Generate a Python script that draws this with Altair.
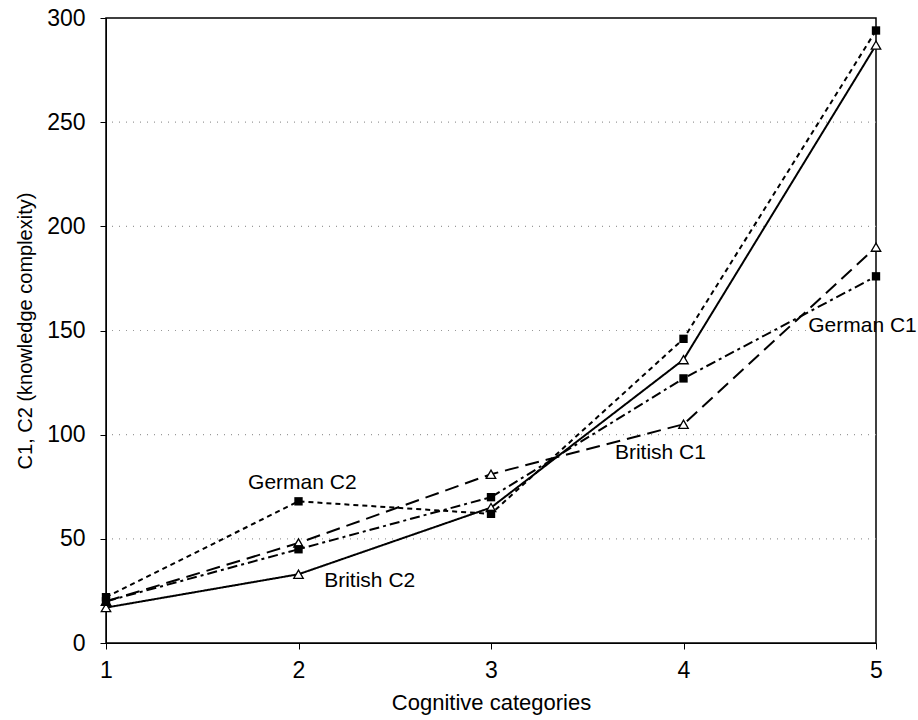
import altair as alt
import pandas as pd

categories = [1, 2, 3, 4, 5]
british_c2 = [17, 33, 65, 136, 287]
german_c2 = [22, 68, 62, 146, 294]
british_c1 = [20, 48, 81, 105, 190]
german_c1 = [20, 45, 70, 127, 176]

series_names = ["British C2", "German C2", "British C1", "German C1"]
series_values = [british_c2, german_c2, british_c1, german_c1]
series_marker = ["triangle", "square", "triangle", "square"]

label_text = ["German C2", "British C2", "British C1", "German C1"]
label_x = [2.02, 2.37, 3.88, 4.93]
label_y = [77, 30, 91, 152]

FONT = "Liberation Sans"

rows = []
for name, vals, mk in zip(series_names, series_values, series_marker):
    for c, v in zip(categories, vals):
        rows.append({"series": name, "cat": c, "value": v, "marker": mk})
df = pd.DataFrame(rows)

labels_df = pd.DataFrame({"text": label_text, "x": label_x, "y": label_y})

xscale = alt.Scale(domain=[1, 5], nice=False, zero=False)
yscale = alt.Scale(domain=[0, 300], nice=False)

dash_map = {
    "British C2": [1, 0],
    "German C2": [5, 4],
    "British C1": [14, 7],
    "German C1": [10, 4, 3, 4],
}

x_axis = alt.Axis(
    values=categories, format="d", title="Cognitive categories", grid=False,
    tickSize=6, labelPadding=10, titlePadding=10, domainColor="black",
    tickColor="black", labelFontSize=23, titleFontSize=22, titleFontWeight="normal",
    labelFont=FONT, titleFont=FONT, labelColor="black", titleColor="black",
    labelFlush=False, labelOverlap=False,
)
y_axis = alt.Axis(
    values=[0, 50, 100, 150, 200, 250, 300], title="C1, C2 (knowledge complexity)",
    grid=False, tickSize=6, labelPadding=15, titlePadding=11, domainColor="black",
    tickColor="black", labelFontSize=23, titleFontSize=20, titleFontWeight="normal",
    labelFont=FONT, titleFont=FONT, labelColor="black", titleColor="black",
    labelFlush=False, labelOverlap=False,
)

grid_df = pd.DataFrame({"g": [50, 100, 150, 200, 250]})
grid = alt.Chart(grid_df).mark_rule(color="#999999", strokeDash=[1, 6], strokeWidth=1.2).encode(
    y=alt.Y("g:Q", scale=yscale, axis=y_axis)
)

layers = [grid]
for name in series_names:
    sub = df[df.series == name]
    line = alt.Chart(sub).mark_line(
        color="black", strokeWidth=2, strokeDash=dash_map[name]
    ).encode(
        x=alt.X("cat:Q", scale=xscale, axis=x_axis),
        y=alt.Y("value:Q", scale=yscale, axis=y_axis),
    )
    layers.append(line)

for name, mk in zip(series_names, series_marker):
    sub = df[df.series == name]
    if mk == "square":
        pts = alt.Chart(sub).mark_point(
            shape="square", filled=True, color="black", size=70, opacity=1
        )
    else:
        pts = alt.Chart(sub).mark_point(
            shape="triangle-up", filled=True, fill="white", stroke="black",
            strokeWidth=1.3, size=90, opacity=1
        )
    layers.append(pts.encode(
        x=alt.X("cat:Q", scale=xscale, axis=x_axis),
        y=alt.Y("value:Q", scale=yscale, axis=y_axis),
    ))

text = alt.Chart(labels_df).mark_text(
    font=FONT, fontSize=21, color="black", align="center", baseline="middle"
).encode(
    x=alt.X("x:Q", scale=xscale, axis=x_axis),
    y=alt.Y("y:Q", scale=yscale, axis=y_axis),
    text="text:N",
)
layers.append(text)

chart = alt.layer(*layers).properties(
    width=770, height=625,
    autosize=alt.AutoSizeParams(type="none"),
    padding={"left": 106, "top": 18, "right": 42, "bottom": 77},
    background="white",
).configure_view(stroke="black", strokeWidth=1.5)

chart.save("out.html", embed_options={"renderer": "svg", "actions": False})
